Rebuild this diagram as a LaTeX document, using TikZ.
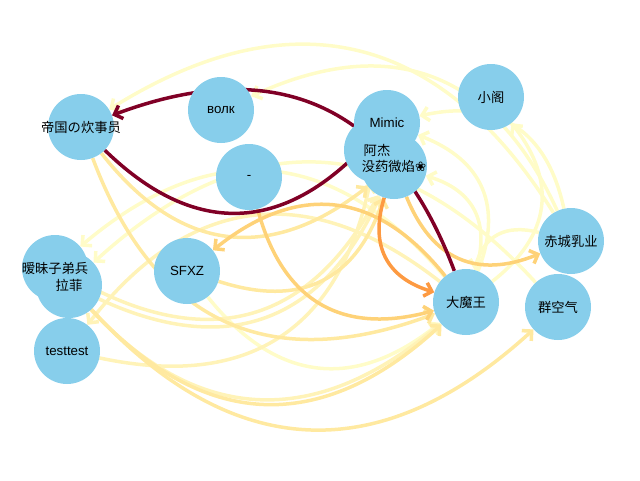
\documentclass[tikz,border=0pt]{standalone}
\usepackage{fontspec}
\setmainfont{Liberation Sans}
\newfontfamily\cjk{Noto Sans CJK SC}
\newfontfamily\djv{DejaVu Sans}
\usetikzlibrary{arrows.meta}
\definecolor{nodeblue}{HTML}{87CEEB}
\definecolor{wA}{HTML}{800026}
\definecolor{wB}{HTML}{FD9A42}
\definecolor{wC}{HTML}{FED278}
\definecolor{wD}{HTML}{FFE9A0}
\definecolor{wE}{HTML}{FFF3B8}
\definecolor{wF}{HTML}{FFFCC8}
\pgfdeclarelayer{edges}
\pgfsetlayers{edges,main}

\begin{document}
\begin{tikzpicture}[x=1pt,y=-1pt,
    vertex/.style={circle,fill=nodeblue,minimum size=66pt,inner sep=0pt},
    vlabel/.style={font=\fontsize{13.3}{15}\selectfont,align=center,inner sep=0pt},
    link/.style={->,line width=3.5pt,line join=round,bend right=45,looseness=1.2},
    >={Straight Barb[length=7pt,width=14pt]}]
    \useasboundingbox (0,0) rectangle (640,480);

    % Draw the nodes
    \node[vertex] (di) at (81,127) {};
    \node[vertex] (volk) at (221,110) {};
    \node[vertex] (dash) at (249,177) {};
    \node[vertex] (mimic) at (387,123) {};
    \node[vertex] (ajie) at (377,150) {};
    \node[vertex] (moyao) at (394,166) {};
    \node[vertex] (xiaoge) at (491,97) {};
    \node[vertex] (chicheng) at (571,241) {};
    \node[vertex] (qunkq) at (558,307) {};
    \node[vertex] (dmw) at (466,302) {};
    \node[vertex] (sfxz) at (187,271) {};
    \node[vertex] (aimei) at (55,268) {};
    \node[vertex] (lafei) at (69,285) {};
    \node[vertex] (testtest) at (67,351) {};

    % Draw the edges below the nodes
    \begin{pgfonlayer}{edges}
    \draw[link,wF] (chicheng) to (di);
    \draw[link,wF] (chicheng) to (volk);
    \draw[link,wF] (chicheng) to (mimic);
    \draw[link,wF] (chicheng) to (dmw);
    \draw[link,wF] (dmw) to (xiaoge);
    \draw[link,wF] (dmw) to (moyao);
    \draw[link,wF] (dmw) to (mimic);
    \draw[link,wF] (dmw) to (aimei);
    \draw[link,wF] (qunkq) to (lafei);
    \draw[link,wF] (sfxz) to (dmw);
    \draw[link,wE] (dmw) to (testtest);
    \draw[link,wE] (aimei) to (dmw);
    \draw[link,wE] (lafei) to (moyao);
    \draw[link,wE] (aimei) to (moyao);
    \draw[link,wE] (testtest) to (ajie);
    \draw[link,wD] (sfxz) to (moyao);
    \draw[link,wD] (di) to (moyao);
    \draw[link,wD] (di) to (dmw);
    \draw[link,wD] (lafei) to (qunkq);
    \draw[link,wD] (lafei) to (dmw);
    \draw[link,wC] (moyao) to (chicheng);
    \draw[link,wC] (dmw) to (sfxz);
    \draw[link,wC] (dash) to (dmw);
    \draw[link,wB] (moyao) to (dmw);
    \draw[link,wA] (dmw) to (di);
    \draw[link,wA] (di) to (mimic);
    \end{pgfonlayer}

    % Label the nodes
    \node[vlabel] (di-t) at (di) {\cjk 帝国の炊事员};
    \node[vlabel] (volk-t) at (volk) {волк};
    \node[vlabel] (dash-t) at (dash) {-};
    \node[vlabel] (mimic-t) at (mimic) {Mimic};
    \node[vlabel] (ajie-t) at (ajie) {\cjk 阿杰};
    \node[vlabel] (moyao-t) at (moyao) {\cjk 没药微焰{\djv ❀}};
    \node[vlabel] (xiaoge-t) at (xiaoge) {\cjk 小阁};
    \node[vlabel] (chicheng-t) at (chicheng) {\cjk 赤城乳业};
    \node[vlabel] (qunkq-t) at (qunkq) {\cjk 群空气};
    \node[vlabel] (dmw-t) at (dmw) {\cjk 大魔王};
    \node[vlabel] (sfxz-t) at (sfxz) {SFXZ};
    \node[vlabel] (aimei-t) at (aimei) {\cjk 暧昧子弟兵};
    \node[vlabel] (lafei-t) at (lafei) {\cjk 拉菲};
    \node[vlabel] (testtest-t) at (testtest) {testtest};
\end{tikzpicture}
\end{document}
